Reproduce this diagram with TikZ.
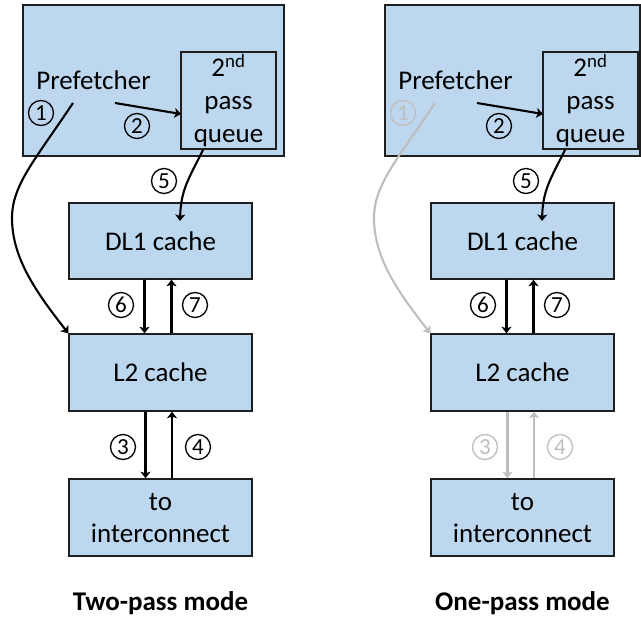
\documentclass[tikz,border=0pt]{standalone}
\usepackage{fontspec}
\setmainfont{Carlito}
\usetikzlibrary{arrows.meta}
\definecolor{boxfill}{RGB}{189,215,238}
\definecolor{boxline}{RGB}{30,30,30}
\definecolor{faded}{RGB}{190,190,190}
\tikzset{
  box/.style={draw=boxline, line width=1.4pt, fill=boxfill, inner sep=0pt},
  txt/.style={font=\fontsize{27}{33}\selectfont, inner sep=0pt, anchor=base},
  num/.style={circle, draw, line width=1.3pt, minimum size=25pt, inner sep=0pt, font=\fontsize{23}{23}\selectfont},
  arr/.style={line width=2.1pt, -{Stealth[length=6.5pt,width=10pt,inset=1.5pt]}},
  captxt/.style={font=\fontsize{27}{33}\selectfont\bfseries, inner sep=0pt, anchor=base},
}
\begin{document}
\begin{tikzpicture}[x=1pt,y=-1pt]
\useasboundingbox (0,0) rectangle (641,617);
% ---------------- left panel ----------------
\node[box, minimum width=261pt, minimum height=151pt] (L-pf) at (153.5,80.5) {};
\node[box, minimum width=95pt, minimum height=97pt] (L-q) at (228.5,100.5) {};
\node[txt] (L-pft) at (93.5,90) {Prefetcher};
\node[txt] (L-q1) at (228.5,77) {2\textsuperscript{nd}};
\node[txt] (L-q2) at (228.5,110) {pass};
\node[txt] (L-q3) at (228.5,143) {queue};
\node[box, minimum width=183pt, minimum height=76pt, font=\fontsize{27}{33}\selectfont] (L-dl1) at (160.5,241) {DL1 cache};
\node[box, minimum width=183pt, minimum height=77pt, font=\fontsize{27}{33}\selectfont] (L-l2) at (160.5,372.5) {L2 cache};
\node[box, minimum width=183pt, minimum height=77pt] (L-ic) at (160.5,517.5) {};
\node[txt] (L-ic1) at (160.5,511) {to};
\node[txt] (L-ic2) at (160.5,543) {interconnect};
\node[captxt] (L-cap) at (160.5,611) {Two-pass mode};
\coordinate (L-s1) at (73,103);
\coordinate (L-s2) at (115,103);
\coordinate (L-e2) at (181,114);
\coordinate (L-s5) at (203,150);
\coordinate (L-e5) at (180,221);
\draw[arr] (L-s1) .. controls (35,160) and (12,185) .. (12,218)
  .. controls (12,258) and (36,292) .. (L-l2.north west);
\draw[arr] (L-s2) -- (L-e2);
\draw[arr] (L-s5) .. controls (188,180) and (181,190) .. (L-e5);
\draw[arr] ([xshift=-16pt]L-dl1.south) -- ([xshift=-16pt]L-l2.north);
\draw[arr] ([xshift=11pt]L-l2.north) -- ([xshift=11pt]L-dl1.south);
\draw[arr] ([xshift=-15pt]L-l2.south) -- ([xshift=-15pt]L-ic.north);
\draw[arr] ([xshift=11.5pt]L-ic.north) -- ([xshift=11.5pt]L-l2.south);
\node[num] (L-n1) at (41,113) {1};
\node[num] (L-n2) at (137,126) {2};
\node[num] (L-n5) at (164,181) {5};
\node[num] (L-n6) at (121,305) {6};
\node[num] (L-n7) at (195,305) {7};
\node[num] (L-n3) at (123,447) {3};
\node[num] (L-n4) at (198,447) {4};
% ---------------- right panel ----------------
\node[box, minimum width=255pt, minimum height=151pt] (R-pf) at (512.5,80.5) {};
\begin{scope}[xshift=362pt]
\node[box, minimum width=95pt, minimum height=97pt] (R-q) at (228.5,100.5) {};
\node[txt] (R-pft) at (93.5,90) {Prefetcher};
\node[txt] (R-q1) at (228.5,77) {2\textsuperscript{nd}};
\node[txt] (R-q2) at (228.5,110) {pass};
\node[txt] (R-q3) at (228.5,143) {queue};
\node[box, minimum width=183pt, minimum height=76pt, font=\fontsize{27}{33}\selectfont] (R-dl1) at (160.5,241) {DL1 cache};
\node[box, minimum width=183pt, minimum height=77pt, font=\fontsize{27}{33}\selectfont] (R-l2) at (160.5,372.5) {L2 cache};
\node[box, minimum width=183pt, minimum height=77pt] (R-ic) at (160.5,517.5) {};
\node[txt] (R-ic1) at (160.5,511) {to};
\node[txt] (R-ic2) at (160.5,543) {interconnect};
\node[captxt] (R-cap) at (160.5,611) {One-pass mode};
\coordinate (R-s1) at (73,103);
\coordinate (R-s2) at (115,103);
\coordinate (R-e2) at (181,114);
\coordinate (R-s5) at (203,150);
\coordinate (R-e5) at (180,221);
\draw[arr, faded] (R-s1) .. controls (35,160) and (12,185) .. (12,218)
  .. controls (12,258) and (36,292) .. (R-l2.north west);
\draw[arr] (R-s2) -- (R-e2);
\draw[arr] (R-s5) .. controls (188,180) and (181,190) .. (R-e5);
\draw[arr] ([xshift=-16pt]R-dl1.south) -- ([xshift=-16pt]R-l2.north);
\draw[arr] ([xshift=11pt]R-l2.north) -- ([xshift=11pt]R-dl1.south);
\draw[arr, faded] ([xshift=-15pt]R-l2.south) -- ([xshift=-15pt]R-ic.north);
\draw[arr, faded] ([xshift=11.5pt]R-ic.north) -- ([xshift=11.5pt]R-l2.south);
\node[num, draw=faded, text=faded] (R-n1) at (41,113) {1};
\node[num] (R-n2) at (137,126) {2};
\node[num] (R-n5) at (164,181) {5};
\node[num] (R-n6) at (121,305) {6};
\node[num] (R-n7) at (195,305) {7};
\node[num, draw=faded, text=faded] (R-n3) at (123,447) {3};
\node[num, draw=faded, text=faded] (R-n4) at (198,447) {4};
\end{scope}
\end{tikzpicture}
\end{document}
